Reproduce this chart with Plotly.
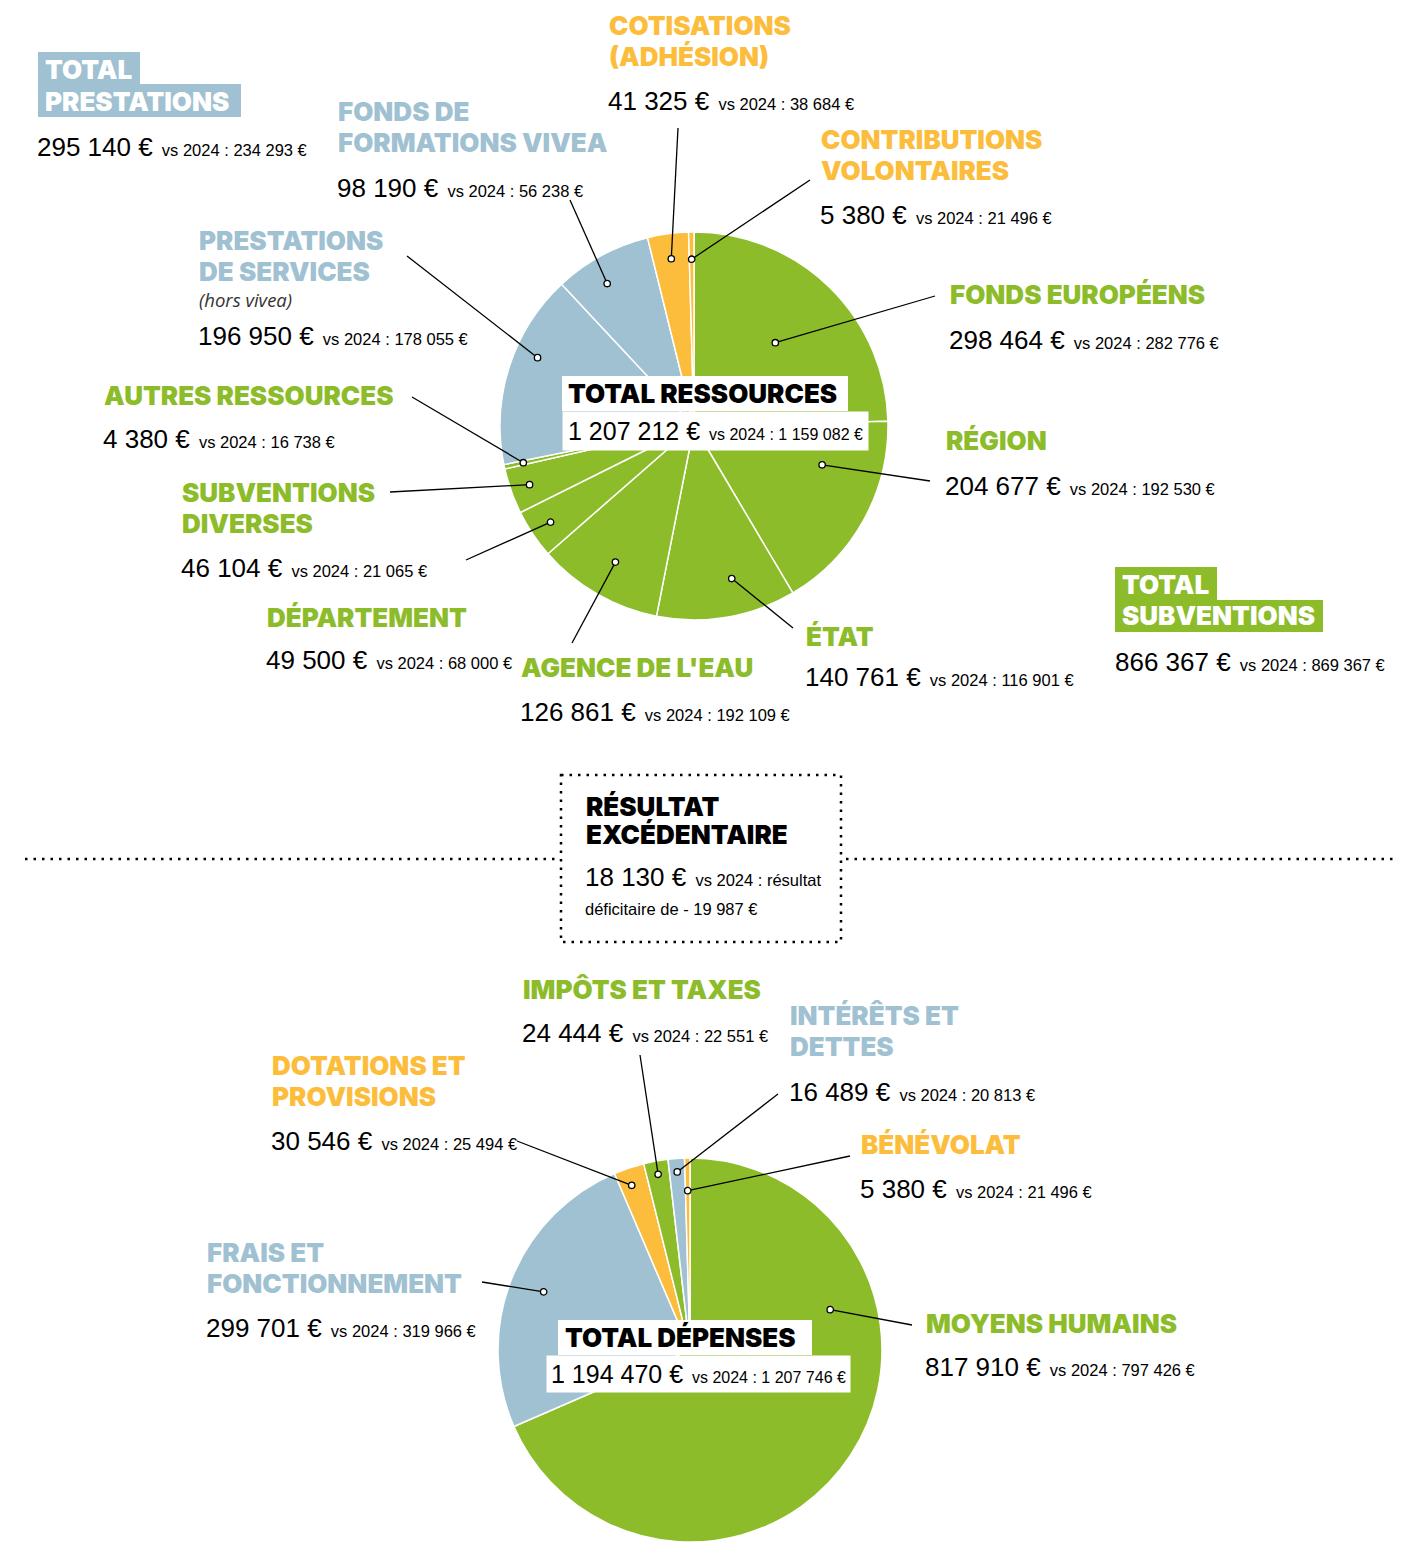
import math
import plotly.graph_objects as go

W, H = 1402, 1542          # browser window
OFF = 8                     # default page margin around the plot div
FW, FH = W - OFF, H - OFF   # figure size so that it fits in the window
GREEN = "#8cbc2a"
BLUE = "#a0c1d1"
ORANGE = "#fcbd3d"

# ---------------- DATA ----------------
res_labels = ["Fonds européens", "Région", "État", "Agence de l'eau", "Département",
              "Subventions diverses", "Autres ressources", "Prestations de services",
              "Fonds de formations VIVEA", "Cotisations (adhésion)", "Contributions volontaires"]
res_values = [298464, 204677, 140761, 126861, 49500, 46104, 4380, 196950, 98190, 41325, 5380]
res_prev = [282776, 192530, 116901, 192109, 68000, 21065, 16738, 178055, 56238, 38684, 21496]
res_colors = [GREEN] * 7 + [BLUE] * 2 + [ORANGE] * 2

dep_labels = ["Moyens humains", "Frais et fonctionnement", "Dotations et provisions",
              "Impôts et taxes", "Intérêts et dettes", "Bénévolat"]
dep_values = [817910, 299701, 30546, 24444, 16489, 5380]
dep_prev = [797426, 319966, 25494, 22551, 20813, 21496]
dep_colors = [GREEN, BLUE, ORANGE, GREEN, BLUE, ORANGE]

total_names = ["Total prestations", "Total subventions", "Total ressources",
               "Total dépenses", "Résultat excédentaire"]
total_values = [295140, 866367, 1207212, 1194470, 18130]
total_prev = [234293, 869367, 1159082, 1207746, -19987]

# ---------------- STYLE / LAYOUT ----------------
HEAD_FONT = "Inter, Lato, sans-serif"
NUM_FONT = "'Liberation Sans', 'Noto Sans', sans-serif"
HEAD_SIZE = 26
BIG = 26
SMALL = 16.5
NB = "\u00a0"

TOP_C = (694, 426, 194)
BOT_C = (690, 1350, 192)

res_layout = {
    "Fonds européens": (["FONDS EUROPÉENS"], 949, 294, 340, (935, 296), (0.5, 0.6)),
    "Région": (["RÉGION"], 945, 440, 486, (930, 481), (0.3, 0.69)),
    "État": (["ÉTAT"], 805, 636, 677, (793, 628), (0.4, 0.81)),
    "Agence de l'eau": (["AGENCE DE L'EAU"], 520, 667, 712, (572, 643), (0.5, 0.81)),
    "Département": (["DÉPARTEMENT"], 266, 617, 660, (466, 560), (0.5, 0.89)),
    "Subventions diverses": (["SUBVENTIONS", "DIVERSES"], 181, 492, 568, (390, 492), (0.5, 0.9)),
    "Autres ressources": (["AUTRES RESSOURCES"], 103, 395, 439, (412, 397), (0.5, 0.9)),
    "Prestations de services": (["PRESTATIONS", "DE SERVICES"], 198, 240, 336, (407, 256), (0.6, 0.88)),
    "Fonds de formations VIVEA": (["FONDS DE", "FORMATIONS VIVEA"], 337, 111, 188, (570, 200), (0.4, 0.86)),
    "Cotisations (adhésion)": (["COTISATIONS", "(ADHÉSION)"], 608, 25, 101, (678, 128), (0.5, 0.87)),
    "Contributions volontaires": (["CONTRIBUTIONS", "VOLONTAIRES"], 820, 139, 215, (810, 180), (0.5, 0.86)),
}
dep_layout = {
    "Moyens humains": (["MOYENS HUMAINS"], 925, 1323, 1367, (912, 1325), (0.3, 0.76)),
    "Frais et fonctionnement": (["FRAIS ET", "FONCTIONNEMENT"], 206, 1252, 1328, (482, 1282), (0.5, 0.82)),
    "Dotations et provisions": (["DOTATIONS ET", "PROVISIONS"], 271, 1065, 1141, (517, 1141), (0.4, 0.91)),
    "Impôts et taxes": (["IMPÔTS ET TAXES"], 522, 989, 1033, (640, 1055), (0.5, 0.93)),
    "Intérêts et dettes": (["INTÉRÊTS ET", "DETTES"], 789, 1015, 1092, (778, 1094), (0.5, 0.93)),
    "Bénévolat": (["BÉNÉVOLAT"], 860, 1144, 1189, (850, 1156), (0.5, 0.83)),
}


def fmt(v):
    s = f"{abs(v):,}".replace(",", NB)
    return ("-" + NB if v < 0 else "") + s + NB + "€"


def span(t, size):
    return f'<span style="font-size:{size}px">{t}</span>'


def num_line(v, p, big=BIG, small=SMALL):
    return span(fmt(v), big) + span(f"{NB}{NB}vs{NB}2024{NB}:{NB}{fmt(p)}", small)


def domain(c):
    cx, cy, r = c
    return dict(x=[(cx - r - OFF) / FW, (cx + r - OFF) / FW],
                y=[1 - (cy + r - OFF) / FH, 1 - (cy - r - OFF) / FH])


def dots(values, c, specs):
    cx, cy, r = c
    tot = sum(values)
    start = 0
    out = []
    for v, (f, rf) in zip(values, specs):
        a = (start + f * v) / tot * 2 * math.pi
        out.append((cx + rf * r * math.sin(a), cy - rf * r * math.cos(a)))
        start += v
    return out


fig = go.Figure()
fig.add_trace(go.Scatter(x=[OFF, W], y=[OFF, H], mode="markers", marker=dict(opacity=0),
                         hoverinfo="skip", showlegend=False))
fig.add_trace(go.Pie(labels=res_labels, values=res_values,
                     marker=dict(colors=res_colors, line=dict(color="white", width=1.5)),
                     sort=False, direction="clockwise", rotation=0, textinfo="none",
                     hoverinfo="label+value", domain=domain(TOP_C), showlegend=False))
fig.add_trace(go.Pie(labels=dep_labels, values=dep_values,
                     marker=dict(colors=dep_colors, line=dict(color="white", width=1.5)),
                     sort=False, direction="clockwise", rotation=0, textinfo="none",
                     hoverinfo="label+value", domain=domain(BOT_C), showlegend=False))

ann = []
shapes = []


def text(x, y, t, size, color="black", family=NUM_FONT, weight=None, italic=False,
         bg=None, pad=0):
    f = dict(size=size, color=color, family=family)
    if weight:
        f["weight"] = weight
    if italic:
        f["style"] = "italic"
    a = dict(x=x - pad, y=y, xref="x", yref="y", text=t, showarrow=False, xanchor="left",
             yanchor="middle", font=f, borderpad=pad)
    if bg:
        a["bgcolor"] = bg
    ann.append(a)


def header(x, y, t, color):
    text(x, y, t, HEAD_SIZE, color, HEAD_FONT, 900)


def rect(x0, y0, x1, y1, fill):
    shapes.append(dict(type="rect", xref="x", yref="y", x0=x0, y0=y0, x1=x1, y1=y1,
                       fillcolor=fill, line=dict(width=0), layer="above"))


def add_group(labels, values, prev, colors, lay, c):
    specs = [lay[l][5] for l in labels]
    pts = dots(values, c, specs)
    for l, v, p, col, (dx, dy) in zip(labels, values, prev, colors, pts):
        lines, x, yh, yn, (sx, sy), _ = lay[l]
        for i, ln in enumerate(lines):
            header(x, yh + 31 * i, ln, col)
        if l == "Prestations de services":
            text(x, 299, "(hors vivea)", 18.5, "#333333", "'Open Sans', sans-serif", italic=True)
        text(x - 1, yn, num_line(v, p), BIG)
        shapes.append(dict(type="line", xref="x", yref="y", x0=sx, y0=sy, x1=dx, y1=dy,
                           line=dict(color="black", width=1.3), layer="above"))
        shapes.append(dict(type="circle", xref="x", yref="y", x0=dx - 3.2, y0=dy - 3.2,
                           x1=dx + 3.2, y1=dy + 3.2, fillcolor="white",
                           line=dict(color="black", width=1.3), layer="above"))


add_group(res_labels, res_values, res_prev, res_colors, res_layout, TOP_C)
add_group(dep_labels, dep_values, dep_prev, dep_colors, dep_layout, BOT_C)

# Total prestations (blue box)
rect(38, 52, 140, 84, BLUE)
rect(38, 84, 241, 117, BLUE)
header(44, 69, "TOTAL", "white")
header(44, 101, "PRESTATIONS", "white")
text(36, 147, num_line(total_values[0], total_prev[0]), BIG)

# Total subventions (green box)
rect(1115, 567, 1217, 600, GREEN)
rect(1115, 600, 1323, 632, GREEN)
header(1121, 584, "TOTAL", "white")
header(1121, 615, "SUBVENTIONS", "white")
text(1114, 662, num_line(total_values[1], total_prev[1]), BIG)

# Total ressources (center top)
rect(562, 376, 848, 411, "white")
header(567, 393, "TOTAL RESSOURCES", "black")
text(567, 431, num_line(total_values[2], total_prev[2], 25, 16), 25, bg="white", pad=5)

# Total dépenses (center bottom)
rect(558, 1320, 812, 1355, "white")
header(564, 1337, "TOTAL DÉPENSES", "black")
text(550, 1374, num_line(total_values[3], total_prev[3], 25, 16), 25, bg="white", pad=4)

# Résultat box
dot_line = dict(color="black", width=2.5, dash="2.5px,6px")
shapes.append(dict(type="rect", xref="x", yref="y", x0=561, y0=775, x1=841, y1=942,
                   line=dot_line, fillcolor="rgba(0,0,0,0)", layer="above"))
shapes.append(dict(type="line", xref="x", yref="y", x0=25, y0=859, x1=557, y1=859,
                   line=dot_line, layer="above"))
shapes.append(dict(type="line", xref="x", yref="y", x0=846, y0=859, x1=1397, y1=859,
                   line=dot_line, layer="above"))
header(585, 806, "RÉSULTAT", "black")
header(585, 834, "EXCÉDENTAIRE", "black")
text(584, 877, span(fmt(total_values[4]), BIG) +
     span(f"{NB}{NB}vs{NB}2024{NB}:{NB}résultat", SMALL), BIG)
text(584, 909, span(f"déficitaire de {fmt(total_prev[4])}", SMALL), SMALL)

fig.update_layout(
    width=FW, height=FH, margin=dict(l=0, r=0, t=0, b=0),
    paper_bgcolor="white", plot_bgcolor="rgba(0,0,0,0)",
    xaxis=dict(range=[OFF, W], visible=False, fixedrange=True, domain=[0, 1]),
    yaxis=dict(range=[H, OFF], visible=False, fixedrange=True, domain=[0, 1]),
    annotations=ann, shapes=shapes, showlegend=False,
)
fig.write_html("out.html")
